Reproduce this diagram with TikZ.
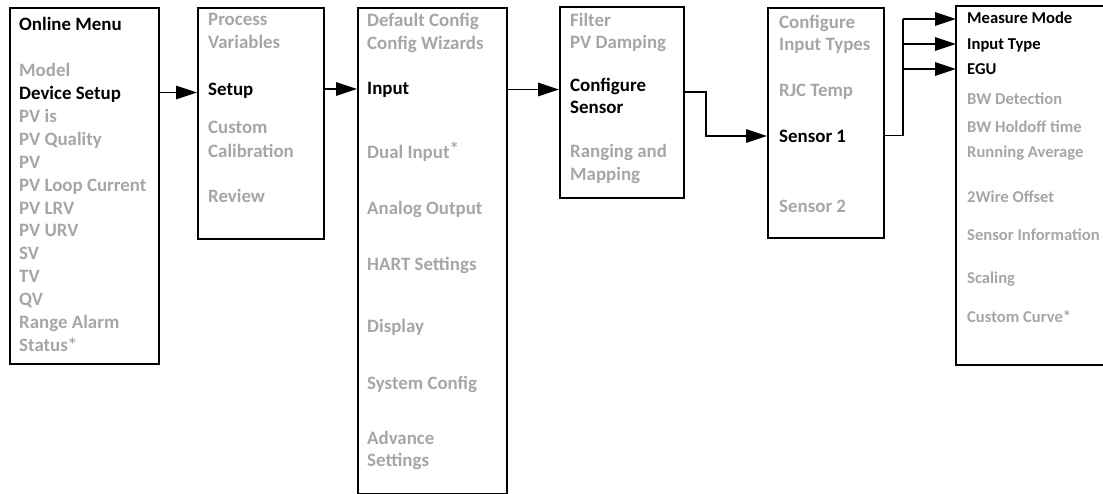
\documentclass[tikz,border=0pt]{standalone}
\usepackage{fontspec}
\setmainfont{Carlito}
\usetikzlibrary{arrows.meta}
\definecolor{dim}{HTML}{A6A6A6}
\begin{document}
\begin{tikzpicture}[x=1pt,y=-1pt,
  box/.style={draw,line width=2pt,inner sep=0pt,anchor=north west},
  t/.style={anchor=base west,inner sep=0pt,font=\fontsize{18.9}{22}\selectfont\bfseries,text=dim},
  s/.style={anchor=base west,inner sep=0pt,font=\fontsize{16.6}{20}\selectfont\bfseries,text=dim},
  on/.style={text=black},
  wire/.style={line width=1.6pt},
  arr/.style={line width=1.6pt,-{Triangle[length=21pt,width=13.5pt]}}]
\useasboundingbox (0,0) rectangle (1103,494);
% boxes
\node[box,minimum width=149pt,minimum height=356pt] (b1) at (9,7) {};
\node[box,minimum width=126pt,minimum height=231pt] (b2) at (197,7) {};
\node[box,minimum width=149pt,minimum height=486pt] (b3) at (357,7) {};
\node[box,minimum width=124pt,minimum height=191pt] (b4) at (559,6) {};
\node[box,minimum width=116pt,minimum height=230pt] (b5) at (767,7) {};
\node[box,draw=none,minimum width=147pt,minimum height=357pt] (b6) at (956,6) {};
\draw[line width=2pt] (b6.north east) -- (b6.north west) -- (b6.south west) -- (b6.south east);
% box 1
\node[t,on] (a0) at (19,31) {Online Menu};
\node[t] (a1) at (19,77) {Model};
\node[t,on] (a2) at (19,99.85) {Device Setup};
\node[t] (a3) at (19,122.7) {PV is};
\node[t] (a4) at (19,145.55) {PV Quality};
\node[t] (a5) at (19,168.4) {PV};
\node[t] (a6) at (19,191.25) {PV Loop Current};
\node[t] (a7) at (19,214.1) {PV LRV};
\node[t] (a8) at (19,236.95) {PV URV};
\node[t] (a9) at (19,259.8) {SV};
\node[t] (a10) at (19,282.65) {TV};
\node[t] (a11) at (19,305.5) {QV};
\node[t] (a12) at (19,328.35) {Range Alarm};
\node[t] (a13) at (19,351.2) {Status*};
% box 2
\node[t] (c1) at (208,26) {Process};
\node[t] (c2) at (208,49) {Variables};
\node[t,on] (c3) at (208,96) {Setup};
\node[t] (c4) at (208,134) {Custom};
\node[t] (c5) at (208,157.5) {Calibration};
\node[t] (c6) at (208,203) {Review};
% box 3
\node[t] (d1) at (367,27) {Default Config};
\node[t] (d2) at (367,49.5) {Config Wizards};
\node[t,on] (d3) at (367,95) {Input};
\node[t] (d4) at (367,159) {Dual Input\raisebox{3pt}{*}};
\node[t] (d5) at (367,214.5) {Analog Output};
\node[t] (d6) at (367,271) {HART Settings};
\node[t] (d7) at (367,333) {Display};
\node[t] (d8) at (367,389) {System Config};
\node[t] (d9) at (367,444) {Advance};
\node[t] (d10) at (367,466) {Settings};
% box 4
\node[t] (e1) at (570,26.5) {Filter};
\node[t] (e2) at (570,49) {PV Damping};
\node[t,on] (e3) at (570,91.5) {Configure};
\node[t,on] (e4) at (570,113.5) {Sensor};
\node[t] (e5) at (570,158) {Ranging and};
\node[t] (e6) at (570,181) {Mapping};
% box 5
\node[t] (f1) at (779,28.5) {Configure};
\node[t] (f2) at (779,51) {Input Types};
\node[t] (f3) at (779,97) {RJC Temp};
\node[t,on] (f4) at (779,143) {Sensor 1};
\node[t] (f5) at (779,213) {Sensor 2};
% box 6
\node[s,on] (g1) at (967,24) {Measure Mode};
\node[s,on] (g2) at (967,50) {Input Type};
\node[s,on] (g3) at (967,75) {EGU};
\node[s] (g4) at (967,105) {BW Detection};
\node[s] (g5) at (967,133) {BW Holdoff time};
\node[s] (g6) at (967,158) {Running Average};
\node[s] (g7) at (967,203) {2Wire Offset};
\node[s] (g8) at (967,241) {Sensor Information};
\node[s] (g9) at (967,284) {Scaling};
\node[s] (g10) at (967,323) {Custom Curve*};
% connectors
\coordinate (y1) at (0,92.5);
\coordinate (y2) at (0,89);
\coordinate (y3) at (0,89.5);
\draw[arr] (b1.east |- y1) -- (b2.west |- y1);
\draw[arr] (b2.east |- y2) -- (b3.west |- y2);
\draw[arr] (b3.east |- y3) -- (b4.west |- y3);
\coordinate (k1) at (706,92);
\coordinate (k2) at (706,136);
\draw[arr] (b4.east |- k1) -- (k1) -- (k2) -- (b5.west |- k2);
\coordinate (j0) at (903,135.5);
\coordinate (j1) at (903,19);
\coordinate (j2) at (903,44);
\coordinate (j3) at (903,69);
\draw[wire] (b5.east |- j0) -- (j0) -- (j1);
\draw[arr] (j1) -- (b6.west |- j1);
\draw[arr] (j2) -- (b6.west |- j2);
\draw[arr] (j3) -- (b6.west |- j3);
\end{tikzpicture}
\end{document}
